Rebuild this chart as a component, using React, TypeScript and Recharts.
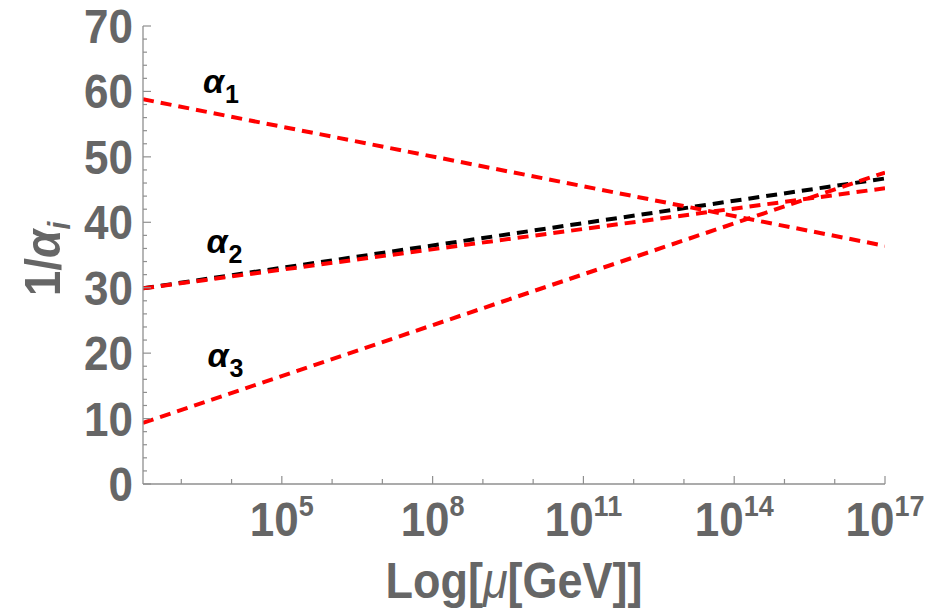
import React from 'react';
import { LineChart, Line, XAxis, YAxis, ReferenceDot } from 'recharts';

// log10(mu / GeV): from the top mass up to 10^17
const logMu = [2.238, 17];
const invAlpha1 = [58.8, 36.4];
const invAlpha2 = [29.9, 45.2];
const invAlpha2SM = [29.9, 46.7];
const invAlpha3 = [9.35, 47.6];

const xTicks = [3, 4, 5, 6, 7, 8, 9, 10, 11, 12, 13, 14, 15, 16, 17];
const xMajor = [5, 8, 11, 14, 17];
const yTicks = [0, 2, 4, 6, 8, 10, 12, 14, 16, 18, 20, 22, 24, 26, 28, 30, 32, 34, 36, 38, 40, 42, 44, 46, 48, 50, 52, 54, 56, 58, 60, 62, 64, 66, 68, 70];

const labelSubs = ['1', '2', '3'];
const labelX = [3.43, 3.5, 3.52];
const labelY = [59.8, 35.3, 17.9];

const data = logMu.map((x, i) => ({
  x,
  a1: invAlpha1[i],
  a2: invAlpha2[i],
  a2sm: invAlpha2SM[i],
  a3: invAlpha3[i],
}));

const FONT = '"Liberation Sans", Arial, sans-serif';
const GREY = '#666666';
const FRAME = '#8f8f8f';
const STRETCH = 1.1; // the original's digits are a bit taller than Arial's

function BottomTick({ x, y, payload }: any) {
  const major = xMajor.includes(payload.value);
  return (
    <g>
      <line x1={x} y1={y} x2={x} y2={y - (major ? 8 : 5)} stroke={FRAME} strokeWidth={1.2} />
      {major && (
        <text
          transform={`translate(${x} ${y + 52}) scale(1 ${STRETCH})`}
          textAnchor="middle"
          fontFamily={FONT}
          fontWeight="bold"
          fontSize={44}
          fill={GREY}
        >
          <tspan>10</tspan>
          <tspan fontSize={27} dy={-18}>{payload.value}</tspan>
        </text>
      )}
    </g>
  );
}

function TopTick({ x, y, payload }: any) {
  const major = xMajor.includes(payload.value);
  return <line x1={x} y1={y} x2={x} y2={y + (major ? 8 : 5)} stroke={FRAME} strokeWidth={1.2} />;
}

function LeftTick({ x, y, payload }: any) {
  const major = payload.value % 10 === 0;
  return (
    <g>
      <line x1={x} y1={y} x2={x + (major ? 8 : 4)} y2={y} stroke={FRAME} strokeWidth={1.2} />
      {major && (
        <text
          transform={`translate(${x - 10} ${y + 17}) scale(1 ${STRETCH})`}
          textAnchor="end"
          fontFamily={FONT}
          fontWeight="bold"
          fontSize={44}
          fill={GREY}
        >
          {payload.value}
        </text>
      )}
    </g>
  );
}

function RightTick({ x, y, payload }: any) {
  const major = payload.value % 10 === 0;
  return <line x1={x} y1={y} x2={x - (major ? 8 : 4)} y2={y} stroke={FRAME} strokeWidth={1.2} />;
}

export default function App() {
  return (
    <div style={{ position: 'absolute', left: 0, top: 0, background: '#fff' }}>
      <LineChart width={948} height={610} data={data} margin={{ top: 26, right: 63, bottom: 0, left: 0 }}>
        <XAxis
          xAxisId="bottom"
          dataKey="x"
          type="number"
          domain={[2.238, 17]}
          ticks={xTicks}
          interval={0}
          tickSize={0}
          tickMargin={0}
          tickLine={false}
          tick={<BottomTick />}
          axisLine={{ stroke: FRAME, strokeWidth: 1.3 }}
          height={126}
          allowDataOverflow
        />
        <XAxis
          xAxisId="top"
          orientation="top"
          dataKey="x"
          type="number"
          domain={[2.238, 17]}
          ticks={xTicks}
          interval={0}
          tickSize={0}
          tickMargin={0}
          tickLine={false}
          tick={<TopTick />}
          axisLine={{ stroke: FRAME, strokeWidth: 1.3 }}
          height={0}
          allowDataOverflow
        />
        <YAxis
          yAxisId="left"
          type="number"
          domain={[0, 70]}
          ticks={yTicks}
          interval={0}
          tickSize={0}
          tickMargin={0}
          tickLine={false}
          tick={<LeftTick />}
          axisLine={{ stroke: FRAME, strokeWidth: 1.3 }}
          width={143}
        />
        <YAxis
          yAxisId="right"
          orientation="right"
          type="number"
          domain={[0, 70]}
          ticks={yTicks}
          interval={0}
          tickSize={0}
          tickMargin={0}
          tickLine={false}
          tick={<RightTick />}
          axisLine={{ stroke: FRAME, strokeWidth: 1.3 }}
          width={0}
        />
        <Line xAxisId="bottom" yAxisId="left" dataKey="a2sm" stroke="#000" strokeWidth={4} strokeDasharray="11 7" dot={false} isAnimationActive={false} />
        <Line xAxisId="bottom" yAxisId="left" dataKey="a1" stroke="#ff0000" strokeWidth={4} strokeDasharray="11 7" dot={false} isAnimationActive={false} />
        <Line xAxisId="bottom" yAxisId="left" dataKey="a2" stroke="#ff0000" strokeWidth={4} strokeDasharray="11 7" dot={false} isAnimationActive={false} />
        <Line xAxisId="bottom" yAxisId="left" dataKey="a3" stroke="#ff0000" strokeWidth={4} strokeDasharray="11 7" dot={false} isAnimationActive={false} />
        {labelSubs.map((s, i) => (
          <ReferenceDot
            key={s}
            xAxisId="bottom"
            yAxisId="left"
            x={labelX[i]}
            y={labelY[i]}
            r={0}
            shape={(p: any) => (
              <text x={p.cx} y={p.cy} fontFamily={FONT} fontWeight="bold" fill="#000">
                <tspan fontSize={34} fontStyle="italic">α</tspan>
                <tspan fontSize={25} dx={1} dy={10}>{s}</tspan>
              </text>
            )}
          />
        ))}
        <text transform={`translate(60 259) rotate(-90) scale(1 ${STRETCH})`} textAnchor="middle" fontFamily={FONT} fontWeight="bold" fontSize={46} fill={GREY}>
          <tspan>1/</tspan>
          <tspan fontStyle="italic">α</tspan>
          <tspan fontStyle="italic" fontSize={28} dy={9}>i</tspan>
        </text>
        <text transform={`translate(514 598) scale(1 ${STRETCH})`} textAnchor="middle" fontFamily={FONT} fontWeight="bold" fontSize={45} fill={GREY}>
          Log[<tspan fontStyle="italic" fontWeight="normal">μ</tspan>[GeV]]
        </text>
      </LineChart>
    </div>
  );
}
